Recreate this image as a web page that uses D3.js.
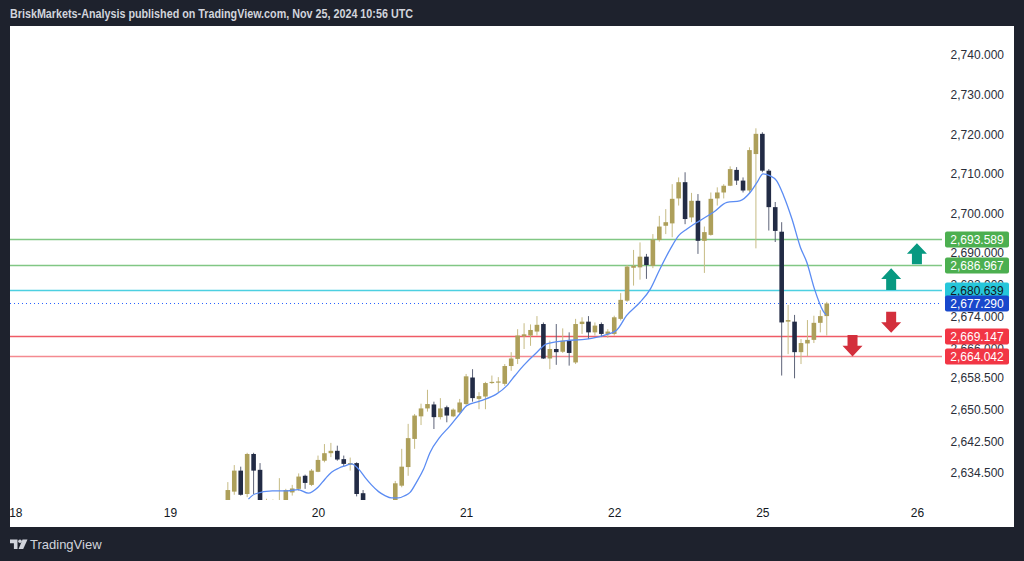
<!DOCTYPE html>
<html>
<head>
<meta charset="utf-8">
<script src="https://cdn.jsdelivr.net/npm/d3@7"></script>
<style>
  body { margin: 0; background: #1e222d; }
  svg { display: block; font-family: "Liberation Sans", Arial, sans-serif; }
</style>
</head>
<body>
<script>
// Hourly XAUUSD candles, bar index 0 = first bar of day 20
var firstBar = -14;
var opens = [2626, 2629.8, 2635.1, 2629.2, 2639.3, 2635.3, 2625, 2626, 2624, 2626,
  2629.6, 2630.5, 2633.8, 2631.5, 2634.8, 2637.6, 2639.5, 2640.1, 2638.0, 2636.6,
  2637.0, 2629.4, 2626, 2624, 2622.5, 2624, 2627.5, 2631.3, 2636.0, 2643.1,
  2648.8, 2650.8, 2651.8, 2648.6, 2651.1, 2648.8, 2649.8, 2651.9, 2658.6, 2653.2,
  2653.8, 2657.2, 2657.3, 2657.0, 2661.5, 2663.3, 2669.0, 2669.2, 2670.2, 2672.1,
  2663.4, 2665.8, 2665.1, 2667.9, 2662.4, 2672.1, 2672.7, 2670.0, 2672.1, 2669.6,
  2669.6, 2673.4, 2678.0, 2686.3, 2686.4, 2689.1, 2686.8, 2693.3, 2696.9, 2697.5,
  2703.8, 2707.9, 2699.0, 2703.2, 2693.1, 2694.6, 2703.8, 2705.3, 2707.0, 2711.0,
  2708.3, 2705.8, 2715.0, 2720.1, 2710.8, 2701.6, 2695.4, 2672.7, 2672.7, 2665.0,
  2667.2, 2668.1, 2672.4, 2674.1];
var highs = [2632.2, 2636.5, 2636.1, 2639.6, 2639.6, 2637.0, 2628, 2627.8, 2633.2, 2630.5,
  2631.5, 2634.4, 2634.1, 2635.5, 2638.9, 2641.8, 2642.1, 2641.4, 2638.9, 2638.4,
  2637.2, 2630.2, 2627, 2626, 2626.5, 2627.5, 2632.5, 2640.6, 2646.9, 2649.4,
  2652.0, 2655.5, 2652.5, 2653.4, 2651.5, 2650.8, 2653.2, 2659.5, 2660.7, 2654.9,
  2657.5, 2659.1, 2658.7, 2662.0, 2665.0, 2670.8, 2672.3, 2672.0, 2674.1, 2672.5,
  2667.9, 2672.1, 2671.0, 2670.0, 2673.4, 2673.8, 2674.1, 2672.5, 2672.5, 2670.8,
  2674.2, 2679.9, 2687.0, 2690.8, 2692.7, 2689.8, 2694.8, 2699.4, 2701.1, 2707.4,
  2709.1, 2710.4, 2705.2, 2704.9, 2696.7, 2705.3, 2706.6, 2707.4, 2711.9, 2711.7,
  2709.1, 2716.7, 2721.5, 2720.5, 2711.2, 2702.9, 2697.8, 2676.9, 2674.4, 2668.3,
  2673.1, 2674.2, 2675.6, 2677.7];
var lows = [2624, 2629, 2628.8, 2628.4, 2629.2, 2624, 2622, 2623, 2622, 2624,
  2628.8, 2630.0, 2630.5, 2631.2, 2634.7, 2637.2, 2638.5, 2637.6, 2636.2, 2635.1,
  2628.6, 2624, 2621, 2620, 2620.5, 2622.5, 2627, 2630.9, 2633.8, 2640.6,
  2646.6, 2650.0, 2645.6, 2648.0, 2647.3, 2648.6, 2649.4, 2651.7, 2652.5, 2650.6,
  2650.6, 2657.0, 2654.9, 2656.5, 2660.3, 2662.0, 2665.8, 2666.6, 2669.2, 2663.3,
  2660.7, 2661.8, 2664.8, 2661.6, 2662.0, 2669.6, 2668.3, 2669.2, 2668.8, 2668.6,
  2669.2, 2673.0, 2677.7, 2681.8, 2683.3, 2683.5, 2686.2, 2692.9, 2694.8, 2694.0,
  2702.0, 2697.3, 2697.8, 2689.8, 2685.0, 2694.4, 2702.0, 2703.8, 2706.9, 2707.2,
  2705.3, 2705.2, 2691.2, 2710.4, 2695.7, 2692.8, 2659.1, 2664.5, 2658.4, 2662.0,
  2664.0, 2667.3, 2670.0, 2669.2];
var closes = [2630.2, 2635.1, 2629.0, 2639.3, 2635.1, 2626, 2627.5, 2627, 2627, 2630.2,
  2630.6, 2633.6, 2632.0, 2635.1, 2637.8, 2639.5, 2640.1, 2637.9, 2636.8, 2637.0,
  2629.2, 2626, 2624, 2622.5, 2624, 2626, 2631.9, 2636.1, 2643.3, 2649.0,
  2650.8, 2651.9, 2648.6, 2650.8, 2649.0, 2650.5, 2652.3, 2658.9, 2653.4, 2653.9,
  2657.2, 2657.5, 2657.6, 2661.5, 2663.4, 2669.2, 2669.5, 2670.6, 2671.9, 2663.4,
  2665.8, 2665.0, 2667.9, 2664.8, 2672.1, 2672.7, 2670.0, 2671.7, 2669.6, 2670.2,
  2673.8, 2678.2, 2686.6, 2686.8, 2689.1, 2687.0, 2693.4, 2696.7, 2697.8, 2703.7,
  2707.9, 2698.6, 2703.2, 2693.1, 2695.3, 2703.7, 2705.3, 2707.0, 2711.2, 2708.3,
  2705.8, 2716.0, 2720.1, 2710.8, 2701.6, 2695.6, 2672.5, 2673.1, 2665.0, 2667.3,
  2668.1, 2672.4, 2674.1, 2677.29];

// moving average (bar index, price)
var maBars = [-10.8, -9.8, -7.1, -4.8, -3.1, -1.5, 0, 1.1, 2.1, 3.2, 4.2, 5.2, 6.3, 7.3, 8.3,
  9.4, 10.4, 11.4, 12.5, 13.5, 14.3, 15.3, 16.4, 17.4, 18.9, 20.5, 22.0, 23.1, 25.2,
  27.7, 29.3, 30.6, 31.9, 34.0, 35.5, 38.6, 41.7, 44.3, 46.4, 47.9, 50, 51.6, 53.1,
  54.7, 56, 57.3, 59.3, 61.4, 63.5, 65.5, 67.1, 68.2, 69.1, 70.2, 71.2, 72.3, 73.6,
  74.9, 75.9, 77.1, 78.4, 78.9];
var maValues = [2627.9, 2629.2, 2630.0, 2630.0, 2630.3, 2629.4, 2630.9, 2633.0, 2634.7,
  2635.7, 2636.3, 2636.8, 2635.5, 2633.4, 2631.5, 2629.8, 2628.8, 2628.2, 2628.2,
  2628.8, 2629.6, 2632.2, 2635.5, 2639.7, 2643.5, 2646.4, 2649.4, 2651.5, 2652.7,
  2654.4, 2656.5, 2659.1, 2661.6, 2665.0, 2667.1, 2667.9, 2668.3, 2669.2, 2670.6,
  2674.2, 2677.6, 2680.9, 2686.0, 2691.0, 2694.4, 2696.1, 2698.2, 2700.3, 2702.8,
  2703.2, 2705.3, 2707.9, 2710.0, 2709.5, 2708.3, 2704.5, 2698.6, 2691.5, 2687.7,
  2680.9, 2675.5, 2674.4];

var dayTicks = [-47, -23, 0, 23, 46, 69, 93];
var dayLabels = ["18", "19", "20", "21", "22", "25", "26"];
var priceTicks = [2740, 2730, 2720, 2710, 2700, 2690, 2682, 2674, 2666, 2658.5, 2650.5, 2642.5, 2634.5];

var levelValues = [2693.589, 2686.967, 2680.639, 2677.290, 2669.147, 2664.042];
var levelLine = ["#81c784", "#81c784", "#4dd0e1", "#2962ff", "#ef5b66", "#f48a91"];
var levelBox = ["#4caf50", "#4caf50", "#26c6da", "#1848cc", "#f23645", "#f23645"];
var levelText = ["#ffffff", "#ffffff", "#131722", "#ffffff", "#ffffff", "#ffffff"];

var arrowBars = [93, 89, 89, 83];
var arrowFrom = [2687.2, 2680.7, 2675.2, 2669.3];
var arrowTo = [2692.5, 2686.2, 2669.9, 2663.9];

var svgWidth = 1024;
var svgHeight = 561;
var plot = { left: 10, top: 26, right: 942, bottom: 500 };

var svg = d3.select("body")
  .append("svg")
  .attr("width", svgWidth)
  .attr("height", svgHeight);

// header
svg.append("text")
  .attr("x", 10)
  .attr("y", 18)
  .attr("fill", "#d1d4dc")
  .attr("font-size", 12)
  .attr("font-weight", 600)
  .attr("textLength", 403)
  .attr("lengthAdjust", "spacingAndGlyphs")
  .text("BriskMarkets-Analysis published on TradingView.com, Nov 25, 2024 10:56 UTC");

// white chart panel
svg.append("rect")
  .attr("x", 10).attr("y", 26)
  .attr("width", 1004).attr("height", 501)
  .attr("fill", "#ffffff");

var xScale = d3.scaleLinear().domain([0, 79]).range([318, 318 + 79 * 6.44]);
var yScale = d3.scaleLinear().domain([2634.5, 2740]).range([473, 55]);

svg.append("clipPath").attr("id", "plotClip")
  .append("rect")
  .attr("x", plot.left).attr("y", plot.top)
  .attr("width", plot.right - plot.left).attr("height", plot.bottom - plot.top);

var chartGroup = svg.append("g").attr("clip-path", "url(#plotClip)");

// horizontal levels
levelValues.forEach(function(v, i) {
  chartGroup.append("line")
    .attr("x1", plot.left).attr("x2", plot.right)
    .attr("y1", Math.round(yScale(v)) + 0.5).attr("y2", Math.round(yScale(v)) + 0.5)
    .attr("stroke", levelLine[i])
    .attr("stroke-width", i == 3 ? 1 : 1.3)
    .attr("stroke-dasharray", i == 3 ? "1,3" : null);
});

// candles
var candles = opens.map(function(o, i) {
  return { bar: firstBar + i, o: o, h: highs[i], l: lows[i], c: closes[i] };
});

var bodyW = 4.6;
chartGroup.selectAll(".wick")
  .data(candles)
  .enter().append("line")
  .attr("x1", d => xScale(d.bar)).attr("x2", d => xScale(d.bar))
  .attr("y1", d => yScale(d.h)).attr("y2", d => yScale(d.l))
  .attr("stroke", d => d.c >= d.o ? "#c6bb84" : "#5d6378")
  .attr("stroke-width", 1);

chartGroup.selectAll(".body")
  .data(candles)
  .enter().append("rect")
  .attr("x", d => xScale(d.bar) - bodyW / 2)
  .attr("y", d => yScale(Math.max(d.o, d.c)))
  .attr("width", bodyW)
  .attr("height", d => Math.max(1, Math.abs(yScale(d.o) - yScale(d.c))))
  .attr("fill", d => d.c >= d.o ? "#ad9f5a" : "#222b45");

// moving average
var maLine = d3.line()
  .x((d, i) => xScale(maBars[i]))
  .y(d => yScale(d))
  .curve(d3.curveMonotoneX);

chartGroup.append("path")
  .datum(maValues)
  .attr("d", maLine)
  .attr("fill", "none")
  .attr("stroke", "#5b8cf3")
  .attr("stroke-width", 1.3);

// arrows
arrowBars.forEach(function(b, i) {
  var cx = xScale(b);
  var y0 = yScale(arrowFrom[i]);
  var y1 = yScale(arrowTo[i]);
  var dir = y1 < y0 ? -1 : 1;
  var len = Math.abs(y1 - y0);
  var head = len * 0.5;
  var yh = y1 - dir * head;
  var pts = [
    [cx - 5, y0], [cx + 5, y0], [cx + 5, yh], [cx + 10, yh],
    [cx, y1], [cx - 10, yh], [cx - 5, yh]
  ];
  svg.append("path")
    .attr("d", "M" + pts.join("L") + "Z")
    .attr("fill", dir < 0 ? "#089981" : "#d32f3c");
});

// time axis
var bottomAxis = d3.axisBottom(xScale)
  .tickValues(dayTicks)
  .tickFormat((d, i) => dayLabels[i])
  .tickSize(0)
  .tickPadding(0);

var xAxisG = svg.append("g")
  .attr("transform", "translate(0, 508)")
  .call(bottomAxis);
xAxisG.select(".domain").remove();
xAxisG.selectAll("text")
  .attr("fill", "#131722")
  .attr("font-size", 12)
  .attr("font-family", "Liberation Sans, Arial, sans-serif");

// price axis
var leftAxis = d3.axisLeft(yScale)
  .tickValues(priceTicks)
  .tickFormat(d3.format(",.3f"))
  .tickSize(0)
  .tickPadding(0);

var yAxisG = svg.append("g")
  .attr("transform", "translate(1004, 0)")
  .call(leftAxis);
yAxisG.select(".domain").remove();
yAxisG.selectAll("text")
  .attr("fill", "#2a2e39")
  .attr("font-size", 12)
  .attr("font-family", "Liberation Sans, Arial, sans-serif");

// level labels
var fmt = d3.format(",.3f");
levelValues.forEach(function(v, i) {
  var yc = Math.round(yScale(v)) + 0.5;
  svg.append("rect")
    .attr("x", 945).attr("y", yc - 8)
    .attr("width", 64).attr("height", 16)
    .attr("rx", 2)
    .attr("fill", levelBox[i]);
  svg.append("text")
    .attr("x", 977).attr("y", yc + 4.3)
    .attr("text-anchor", "middle")
    .attr("fill", levelText[i])
    .attr("font-size", 12)
    .text(fmt(v));
});

// footer logo
var logo = svg.append("g").attr("fill", "#d1d4dc");
logo.append("path").attr("d", "M10 539.5h7.5v9.5h-3.6v-5.8h-3.9z");
logo.append("circle").attr("cx", 20).attr("cy", 541.3).attr("r", 1.8);
logo.append("path").attr("d", "M22.5 539.5h5l-4.3 9.5h-4.6z");
svg.append("text")
  .attr("x", 30).attr("y", 549)
  .attr("fill", "#d1d4dc")
  .attr("font-size", 13)
  .text("TradingView");
</script>
</body>
</html>
